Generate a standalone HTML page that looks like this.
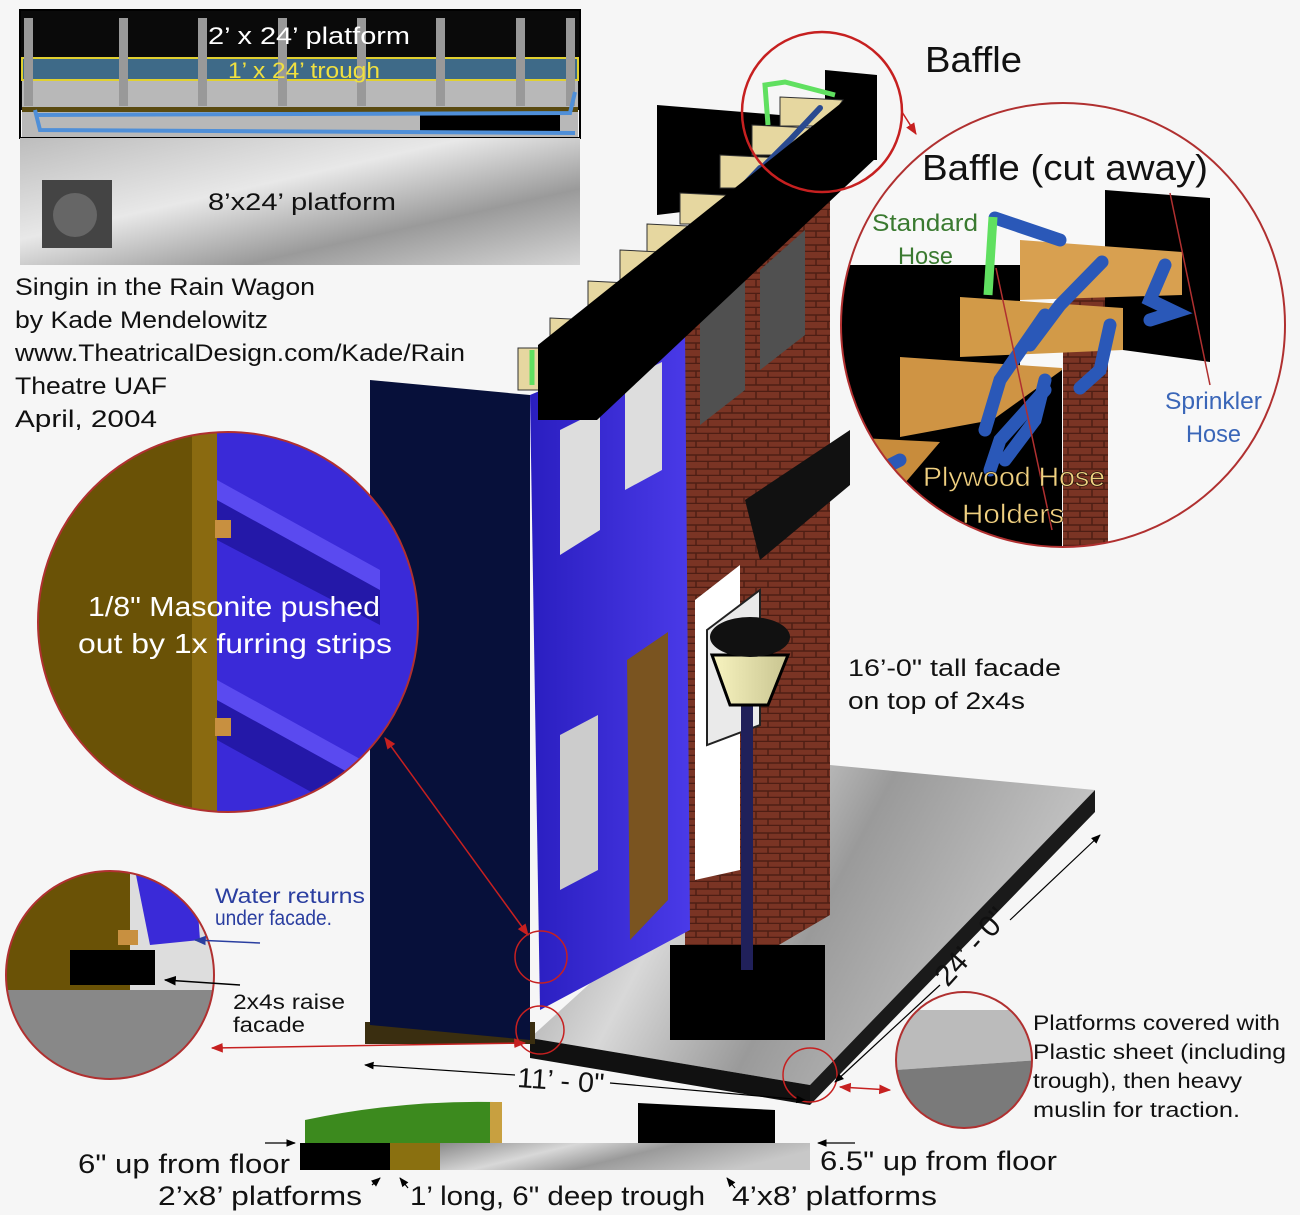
<!DOCTYPE html>
<html><head><meta charset="utf-8"><style>
html,body{margin:0;padding:0;background:#f6f6f6}
svg{display:block}
text{font-family:"Liberation Sans",sans-serif}
</style></head><body>
<svg width="1300" height="1215" viewBox="0 0 1300 1215" xmlns="http://www.w3.org/2000/svg">
<defs>
<linearGradient id="gr" x1="0" y1="0" x2="1" y2="1"><stop offset="0" stop-color="#bdbdbd"/><stop offset=".4" stop-color="#e8e8e8"/><stop offset=".7" stop-color="#9a9a9a"/><stop offset="1" stop-color="#d5d5d5"/></linearGradient>
<linearGradient id="gr2" x1="0" x2="1" y1="0" y2="0.3"><stop offset="0" stop-color="#8a8a8a"/><stop offset=".35" stop-color="#d8d8d8"/><stop offset=".6" stop-color="#9a9a9a"/><stop offset="1" stop-color="#c8c8c8"/></linearGradient>
<linearGradient id="bl" x1="0" x2="1"><stop offset="0" stop-color="#2a1ec0"/><stop offset="1" stop-color="#4a3ae8"/></linearGradient>
<linearGradient id="lamp" x1="0" x2="1"><stop offset="0" stop-color="#f8f4c0"/><stop offset="1" stop-color="#c8c490"/></linearGradient>
<pattern id="brick" width="24" height="14" patternUnits="userSpaceOnUse"><rect width="24" height="14" fill="#7a3424"/><path d="M0 13.5H24M12 0V7M0 7H24M0 7V14M24 7V14" stroke="#4e1e14" stroke-width="1.5"/></pattern>
<marker id="ar" viewBox="0 0 10 10" refX="9" refY="5" markerWidth="8" markerHeight="8" orient="auto-start-reverse"><path d="M0 1 L10 5 L0 9 z" fill="#c62020"/></marker>
<marker id="ak" viewBox="0 0 10 10" refX="9" refY="5" markerWidth="8" markerHeight="8" orient="auto-start-reverse"><path d="M0 1 L10 5 L0 9 z" fill="#000"/></marker>
<marker id="ab" viewBox="0 0 10 10" refX="9" refY="5" markerWidth="8" markerHeight="8" orient="auto-start-reverse"><path d="M0 1 L10 5 L0 9 z" fill="#2a3ea0"/></marker>
<clipPath id="cR"><circle cx="1063" cy="325" r="222"/></clipPath>
<clipPath id="cL"><circle cx="228" cy="622" r="190"/></clipPath>
<clipPath id="cB"><circle cx="110" cy="975" r="104"/></clipPath>
<clipPath id="cS"><circle cx="964" cy="1060" r="68"/></clipPath>
</defs>

<!-- top-left plan -->
<rect x="20" y="10" width="560" height="100" fill="#0a0a0a"/>
<rect x="22" y="78" width="556" height="60" fill="#b8b8b8"/>
<rect x="22" y="58" width="556" height="22" fill="#3e6a88" stroke="#e0d030" stroke-width="2"/>
<g fill="#999"><rect x="24" y="18" width="9" height="88"/><rect x="119" y="18" width="9" height="88"/><rect x="198" y="18" width="9" height="88"/><rect x="278" y="18" width="9" height="88"/><rect x="357" y="18" width="9" height="88"/><rect x="436" y="18" width="9" height="88"/><rect x="516" y="18" width="9" height="88"/><rect x="566" y="18" width="9" height="88"/></g>
<rect x="22" y="107" width="556" height="5" fill="#5a4a10"/>
<rect x="420" y="113" width="140" height="20" fill="#000"/>
<path d="M35 110 L40 130 L575 133 M35 115 L570 113 L575 92" stroke="#4f8fd8" stroke-width="4" fill="none"/>
<rect x="20" y="10" width="560" height="128" fill="none" stroke="#000" stroke-width="2"/>
<rect x="20" y="138" width="560" height="127" fill="url(#gr)"/>
<rect x="42" y="180" width="70" height="68" fill="#444"/><circle cx="75" cy="215" r="22" fill="#666"/>
<text x="208" y="44" font-size="24" fill="#fff" textLength="202" lengthAdjust="spacingAndGlyphs">2’ x 24’ platform</text>
<text x="228" y="78" font-size="22" fill="#f0e040" textLength="152" lengthAdjust="spacingAndGlyphs">1’ x 24’ trough</text>
<text x="208" y="210" font-size="24" fill="#111" textLength="188" lengthAdjust="spacingAndGlyphs">8’x24’ platform</text>

<g font-size="24" fill="#111">
<text x="15" y="295" textLength="300" lengthAdjust="spacingAndGlyphs">Singin in the Rain Wagon</text>
<text x="15" y="328" textLength="253" lengthAdjust="spacingAndGlyphs">by Kade Mendelowitz</text>
<text x="15" y="361" textLength="450" lengthAdjust="spacingAndGlyphs">www.TheatricalDesign.com/Kade/Rain</text>
<text x="15" y="394" textLength="152" lengthAdjust="spacingAndGlyphs">Theatre UAF</text>
<text x="15" y="427" textLength="142" lengthAdjust="spacingAndGlyphs">April, 2004</text>
</g>

<!-- platform -->
<polygon points="530,1038 830,765 1095,790 810,1085" fill="url(#gr2)"/>
<polygon points="530,1038 810,1085 810,1105 530,1058" fill="#111"/>
<polygon points="810,1085 1095,790 1095,812 810,1105" fill="#1a1a1a"/>
<rect x="365" y="1022" width="170" height="22" fill="#3a2e10"/>

<!-- back black panel -->
<polygon points="657,105 780,115 780,200 657,215" fill="#000"/>
<polygon points="825,70 877,75 877,160 825,160" fill="#000"/>

<!-- brick wall -->
<polygon points="685,330 830,195 830,915 685,1000" fill="url(#brick)"/>
<polygon points="700,320 745,280 745,390 700,425" fill="#505050"/>
<polygon points="760,270 805,230 805,335 760,370" fill="#505050"/>
<polygon points="745,500 850,430 850,485 760,560" fill="#111"/>
<polygon points="695,600 740,565 740,870 695,880" fill="#fff"/>
<polygon points="707,630 760,590 760,725 707,745" fill="#eaeaea" stroke="#222" stroke-width="2"/>

<!-- navy panel -->
<polygon points="370,380 530,395 530,1040 370,1025" fill="#07103a"/>
<!-- blue facade -->
<polygon points="530,395 685,330 690,930 540,1010" fill="url(#bl)"/>
<polygon points="560,430 600,410 600,530 560,555" fill="#ddd"/>
<polygon points="625,380 662,362 662,470 625,490" fill="#ddd"/>
<polygon points="560,735 598,715 598,870 560,890" fill="#ccc"/>
<polygon points="627,660 668,632 668,900 630,940" fill="#7a5420"/>

<!-- plywood holders -->
<g fill="#e6d7a0" stroke="#333" stroke-width="1">
<polygon points="780,97 843,100 825,126 780,126"/>
<polygon points="752,125 812,128 795,155 752,155"/>
<polygon points="720,155 782,158 765,188 720,188"/>
<polygon points="680,193 742,196 725,224 680,224"/>
<polygon points="647,224 708,227 690,255 647,255"/>
<polygon points="620,250 680,253 662,282 620,282"/>
<polygon points="588,281 650,284 632,312 588,312"/>
<polygon points="550,318 612,321 595,350 550,350"/>
<polygon points="518,348 540,348 540,390 518,390"/>
</g>
<g stroke="#2a4a90" stroke-width="6" fill="none" stroke-linecap="round">
<path d="M820 108 L790 140 M792 138 L760 170 M760 168 L725 205 M725 203 L690 240 M690 238 L660 268 M660 266 L628 298 M628 296 L595 330 M595 328 L565 355"/>
</g>
<!-- beam -->
<polygon points="538,345 845,100 877,75 877,157 597,420 538,420" fill="#000"/>
<polyline points="768,125 765,85 785,82 835,95" stroke="#60e060" stroke-width="5" fill="none"/>
<polyline points="532,385 532,350" stroke="#60e060" stroke-width="5" fill="none"/>

<!-- lamp -->
<rect x="670" y="945" width="155" height="95" fill="#000"/>
<rect x="741" y="700" width="12" height="270" fill="#20205a"/>
<polygon points="712,655 788,655 768,705 730,705" fill="url(#lamp)" stroke="#000" stroke-width="3"/>
<ellipse cx="750" cy="637" rx="40" ry="20" fill="#111"/>

<!-- red connector lines -->
<g stroke="#c62020" stroke-width="1.5" fill="none">
<line x1="385" y1="738" x2="528" y2="935" marker-start="url(#ar)" marker-end="url(#ar)"/>
<line x1="525" y1="1043" x2="212" y2="1048" marker-start="url(#ar)" marker-end="url(#ar)"/>
<line x1="902" y1="112" x2="916" y2="134" marker-end="url(#ar)"/>
<line x1="840" y1="1087" x2="890" y2="1090" marker-start="url(#ar)" marker-end="url(#ar)"/>
<circle cx="541" cy="957" r="26"/><circle cx="540" cy="1030" r="24"/><circle cx="810" cy="1075" r="27"/>
<circle cx="822" cy="112" r="80" stroke-width="2.5"/>
</g>

<!-- right circle -->
<circle cx="1063" cy="325" r="222" fill="#f8f8f8"/>
<g clip-path="url(#cR)">
<polygon points="840,265 1020,265 1020,550 840,550" fill="#000"/>
<rect x="1063" y="280" width="45" height="270" fill="url(#brick)"/>
<polygon points="1105,190 1210,198 1210,362 1123,350 1105,350" fill="#000"/>
<polygon points="1020,240 1182,252 1182,295 1020,300" fill="#d8a050"/>
<polygon points="960,297 1123,308 1123,350 960,357" fill="#d29a48"/>
<polygon points="900,357 1062,368 1062,407 900,437" fill="#cf9444"/>
<polygon points="840,437 940,442 905,483 840,490" fill="#c88c3c"/>
<polygon points="1062,370 1062,550 910,550 905,483" fill="#000"/>
<g stroke="#2a58b8" stroke-width="13" fill="none" stroke-linecap="round">
<path d="M995 218 L1060 240 M1102 262 L1060 305 L1030 345 M1165 265 L1150 300 L1175 312 L1150 320 M1045 315 L1000 380 L985 430 M1110 325 L1100 370 L1080 388 M1045 390 L1000 440 L990 470 M1045 380 L1035 420 L1005 460 M900 460 L880 470"/>
</g>
<polyline points="993,217 988,295" stroke="#60e060" stroke-width="9" fill="none"/>
<line x1="1170" y1="193" x2="1210" y2="385" stroke="#b03030" stroke-width="1.5"/>
<line x1="996" y1="268" x2="1052" y2="530" stroke="#b03030" stroke-width="1.5"/>
</g>
<circle cx="1063" cy="325" r="222" fill="none" stroke="#b03030" stroke-width="2"/>
<text x="925" y="72" font-size="36" fill="#111" textLength="97" lengthAdjust="spacingAndGlyphs">Baffle</text>
<text x="922" y="180" font-size="36" fill="#111" textLength="286" lengthAdjust="spacingAndGlyphs">Baffle (cut away)</text>
<text x="872" y="231" font-size="24" fill="#3a7a30" textLength="106" lengthAdjust="spacingAndGlyphs">Standard</text>
<text x="898" y="264" font-size="24" fill="#3a7a30" textLength="55" lengthAdjust="spacingAndGlyphs">Hose</text>
<text x="1165" y="409" font-size="24" fill="#3a66b8" textLength="97" lengthAdjust="spacingAndGlyphs">Sprinkler</text>
<text x="1186" y="442" font-size="24" fill="#3a66b8" textLength="55" lengthAdjust="spacingAndGlyphs">Hose</text>
<text x="923" y="486" font-size="27" fill="#f0d080" stroke="#000" stroke-width=".5" textLength="182" lengthAdjust="spacingAndGlyphs">Plywood Hose</text>
<text x="962" y="523" font-size="27" fill="#f0d080" stroke="#000" stroke-width=".5" textLength="102" lengthAdjust="spacingAndGlyphs">Holders</text>

<!-- left big circle -->
<g clip-path="url(#cL)">
<rect x="30" y="430" width="400" height="400" fill="#6a5206"/>
<rect x="192" y="430" width="25" height="400" fill="#8a6a10"/>
<polygon points="217,430 430,430 430,830 217,830" fill="#3a2ad8"/>
<polygon points="217,500 380,590 380,625 217,540" fill="#2418a8"/>
<polygon points="217,700 380,790 380,830 217,740" fill="#2418a8"/>
<polygon points="217,480 380,570 380,590 217,500" fill="#5a4af0"/>
<polygon points="217,680 380,770 380,790 217,700" fill="#5a4af0"/>
<rect x="215" y="520" width="16" height="18" fill="#c89040"/><rect x="215" y="718" width="16" height="18" fill="#c89040"/>
</g>
<circle cx="228" cy="622" r="190" fill="none" stroke="#b03030" stroke-width="2"/>
<text x="88" y="616" font-size="28" fill="#fff" textLength="292" lengthAdjust="spacingAndGlyphs">1/8" Masonite pushed</text>
<text x="78" y="653" font-size="28" fill="#fff" textLength="314" lengthAdjust="spacingAndGlyphs">out by 1x furring strips</text>

<!-- bottom-left circle -->
<g clip-path="url(#cB)">
<rect x="0" y="870" width="220" height="210" fill="#ddd"/>
<rect x="0" y="990" width="220" height="90" fill="#888"/>
<rect x="0" y="870" width="130" height="120" fill="#6a5206"/>
<rect x="70" y="950" width="85" height="35" fill="#000"/>
<polygon points="135,870 195,870 200,940 150,945" fill="#3a2ad8"/>
<rect x="118" y="930" width="20" height="15" fill="#c89040"/>
</g>
<circle cx="110" cy="975" r="104" fill="none" stroke="#b03030" stroke-width="2"/>
<text x="215" y="903" font-size="21" fill="#2a3ea0" textLength="150" lengthAdjust="spacingAndGlyphs">Water returns</text>
<text x="215" y="925" font-size="21" fill="#2a3ea0" textLength="117" lengthAdjust="spacingAndGlyphs">under facade.</text>
<line x1="260" y1="943" x2="195" y2="940" stroke="#2a3ea0" stroke-width="1.5" marker-end="url(#ab)"/>
<line x1="240" y1="985" x2="165" y2="980" stroke="#000" stroke-width="1.5" marker-end="url(#ak)"/>
<text x="233" y="1009" font-size="21" fill="#111" textLength="112" lengthAdjust="spacingAndGlyphs">2x4s raise</text>
<text x="233" y="1032" font-size="21" fill="#111" textLength="72" lengthAdjust="spacingAndGlyphs">facade</text>

<!-- small bottom right circle -->
<g clip-path="url(#cS)"><rect x="896" y="992" width="136" height="136" fill="#f6f6f6"/><polygon points="896,1010 1040,1010 1040,1060 896,1070" fill="#bbb"/><polygon points="896,1070 1040,1060 1040,1128 896,1128" fill="#7a7a7a"/></g>
<circle cx="964" cy="1060" r="68" fill="none" stroke="#b03030" stroke-width="2"/>
<g font-size="21" fill="#111">
<text x="1033" y="1030" textLength="247" lengthAdjust="spacingAndGlyphs">Platforms covered with</text>
<text x="1033" y="1059" textLength="253" lengthAdjust="spacingAndGlyphs">Plastic sheet (including</text>
<text x="1033" y="1088" textLength="209" lengthAdjust="spacingAndGlyphs">trough), then heavy</text>
<text x="1033" y="1117" textLength="207" lengthAdjust="spacingAndGlyphs">muslin for traction.</text>
</g>

<text x="848" y="676" font-size="24" fill="#111" textLength="213" lengthAdjust="spacingAndGlyphs">16’-0" tall facade</text>
<text x="848" y="709" font-size="24" fill="#111" textLength="177" lengthAdjust="spacingAndGlyphs">on top of 2x4s</text>

<!-- dimensions -->
<g stroke="#000" stroke-width="1.2">
<line x1="515" y1="1075" x2="365" y2="1065" marker-end="url(#ak)"/><line x1="610" y1="1083" x2="805" y2="1100" marker-end="url(#ak)"/>
<line x1="940" y1="985" x2="835" y2="1082" marker-end="url(#ak)"/><line x1="1010" y1="920" x2="1100" y2="835" marker-end="url(#ak)"/>
<line x1="265" y1="1143" x2="295" y2="1143" marker-end="url(#ak)"/><line x1="855" y1="1143" x2="818" y2="1143" marker-end="url(#ak)"/>
<line x1="372" y1="1185" x2="380" y2="1178" marker-end="url(#ak)"/>
<line x1="408" y1="1188" x2="400" y2="1178" marker-end="url(#ak)"/>
<line x1="735" y1="1188" x2="727" y2="1178" marker-end="url(#ak)"/>
</g>
<text x="517" y="1090" font-size="28" fill="#111" textLength="87" lengthAdjust="spacingAndGlyphs" transform="rotate(4 560 1085)">11’ - 0"</text>
<text x="975" y="955" font-size="30" fill="#111" text-anchor="middle" transform="rotate(-48 975 950)">24’ - 0"</text>

<!-- bottom strip -->
<path d="M305 1120 Q400 1100 495 1102 L500 1143 L305 1143 Z" fill="#3c8a1e"/>
<rect x="490" y="1102" width="12" height="41" fill="#c8a040"/>
<path d="M638 1103 L775 1110 L775 1143 L638 1143 Z" fill="#000"/>
<rect x="300" y="1143" width="90" height="27" fill="#000"/>
<rect x="390" y="1143" width="50" height="27" fill="#8a7010"/>
<rect x="440" y="1143" width="370" height="27" fill="url(#gr2)"/>
<g font-size="27" fill="#111">
<text x="78" y="1173" textLength="212" lengthAdjust="spacingAndGlyphs">6" up from floor</text>
<text x="158" y="1205" textLength="204" lengthAdjust="spacingAndGlyphs">2’x8’ platforms</text>
<text x="410" y="1205" textLength="295" lengthAdjust="spacingAndGlyphs">1’ long, 6" deep trough</text>
<text x="732" y="1205" textLength="205" lengthAdjust="spacingAndGlyphs">4’x8’ platforms</text>
<text x="820" y="1170" textLength="237" lengthAdjust="spacingAndGlyphs">6.5" up from floor</text>
</g>
</svg>
</body></html>
